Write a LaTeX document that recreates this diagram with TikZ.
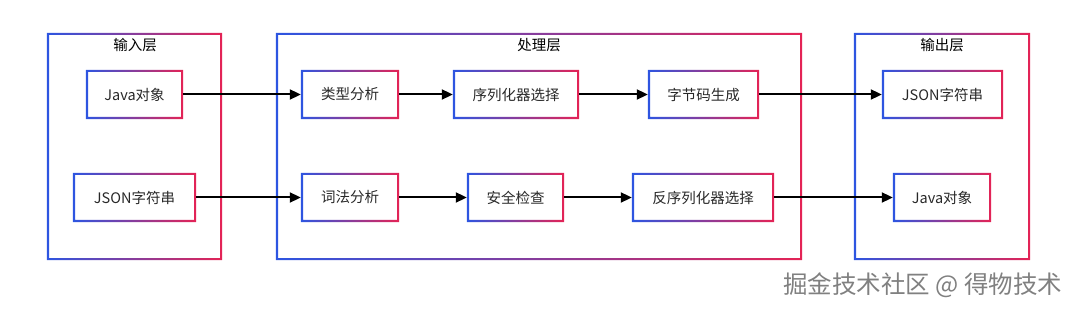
\documentclass[tikz,border=0pt]{standalone}
\usepackage{fontspec}
\setmainfont{Noto Sans CJK SC}
\usetikzlibrary{arrows.meta}
\definecolor{gblue}{RGB}{45,85,225}
\definecolor{gred}{RGB}{228,35,85}
\definecolor{txt}{RGB}{40,40,40}
\newcommand{\gframe}[2][2.2]{%
  \shade[left color=gblue,right color=gred,even odd rule]
    (#2.north west) rectangle (#2.south east)
    ([xshift=#1pt,yshift=-#1pt]#2.north west) rectangle ([xshift=-#1pt,yshift=#1pt]#2.south east);}
\tikzset{
  layer/.style={draw=none,inner sep=0pt,minimum height=227pt},
  box/.style={draw=none,inner sep=0pt,minimum height=49pt,text=txt,font=\fontsize{14.5}{16}\selectfont},
  ttl/.style={inner sep=0pt,text=black,font=\fontsize{14.5}{16}\selectfont},
  arr/.style={line width=2pt,-{Triangle[length=11pt,width=10pt]}},
  wm/.style={inner sep=0pt,text=black!50,font=\fontsize{24.5}{26}\selectfont}
}
\begin{document}
\begin{tikzpicture}[x=1pt,y=-1pt]
\useasboundingbox (0,0) rectangle (1080,310);
% layers
\node[layer,minimum width=175pt] (inL) at (134.5,146.5) {};
\node[layer,minimum width=526pt] (proc) at (539,146.5) {};
\node[layer,minimum width=176pt] (outL) at (942,146.5) {};
\gframe{inL}\gframe{proc}\gframe{outL}
\node[ttl] (tin) at (135,45) {输入层};
\node[ttl] (tproc) at (539,45) {处理层};
\node[ttl] (tout) at (942,45) {输出层};
% boxes
\node[box,minimum width=97pt] (javaIn) at (134.5,94.5) {Java对象};
\node[box,minimum width=123pt] (jsonIn) at (134.5,197.5) {JSON字符串};
\node[box,minimum width=98pt] (type) at (350,94.5) {类型分析};
\node[box,minimum width=126pt] (ser) at (516,94.5) {序列化器选择};
\node[box,minimum width=111pt] (byte) at (703.5,94.5) {字节码生成};
\node[box,minimum width=98pt] (lex) at (350,197.5) {词法分析};
\node[box,minimum width=97pt] (sec) at (515.5,197.5) {安全检查};
\node[box,minimum width=142pt] (deser) at (703,197.5) {反序列化器选择};
\node[box,minimum width=121pt] (jsonOut) at (942.5,94.5) {JSON字符串};
\node[box,minimum width=98pt] (javaOut) at (942,197.5) {Java对象};
\foreach \n in {javaIn,jsonIn,type,ser,byte,lex,sec,deser,jsonOut,javaOut}{\gframe{\n}}
% arrows
\draw[arr] (javaIn) -- (type);
\draw[arr] (type) -- (ser);
\draw[arr] (ser) -- (byte);
\draw[arr] (byte) -- (jsonOut);
\draw[arr] (jsonIn) -- (lex);
\draw[arr] (lex) -- (sec);
\draw[arr] (sec) -- (deser);
\draw[arr] (deser) -- (javaOut);
% watermark
\node[wm,anchor=west] (wmark) at (783,285) {掘金技术社区 @ 得物技术};
\end{tikzpicture}
\end{document}
